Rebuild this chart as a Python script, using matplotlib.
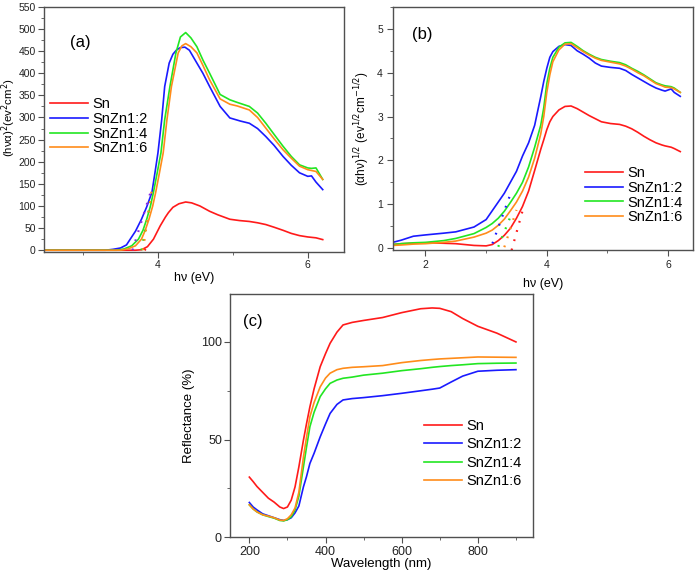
import matplotlib
matplotlib.use("Agg")
import matplotlib.pyplot as plt
from matplotlib.ticker import MultipleLocator

plt.rcParams['font.family'] = ['Liberation Sans', 'DejaVu Sans']

labels = ["Sn", "SnZn1:2", "SnZn1:4", "SnZn1:6"]
colors = ["#ff1a1a", "#1a1aff", "#22e622", "#ff8c1a"]

# ---------- panel (a): (h nu alpha)^2 vs h nu ----------
a_x_sn = [2.48, 3.7, 3.78, 3.86, 3.94, 4.03, 4.1, 4.14, 4.2, 4.28, 4.37, 4.45, 4.56, 4.69, 4.8, 4.96, 5.09, 5.22,
          5.33, 5.44, 5.55, 5.67, 5.78, 5.89, 6.0, 6.11, 6.2]
a_y_sn = [0, 0, 1, 8, 25, 55, 75, 85, 97, 105, 109, 107, 100, 88, 80, 70, 67, 65, 62, 58, 52, 45, 38, 33, 30, 28, 24]
a_x_12 = [2.48, 3.3, 3.4, 3.5, 3.58, 3.63, 3.7, 3.78, 3.85, 3.92, 3.96, 4.0, 4.05, 4.09, 4.15, 4.2, 4.25, 4.3, 4.36,
          4.42, 4.52, 4.6, 4.69, 4.83, 4.96, 5.1, 5.22, 5.33, 5.44, 5.55, 5.67, 5.78, 5.89, 6.0, 6.05, 6.11, 6.2]
a_y_12 = [0, 0, 2, 5, 12, 25, 43, 70, 98, 131, 175, 220, 295, 370, 423, 443, 453, 458, 459, 452, 423, 400, 370, 325,
          299, 292, 287, 275, 257, 237, 212, 192, 175, 167, 168, 154, 137]
a_x_14 = [2.48, 3.45, 3.55, 3.65, 3.74, 3.8, 3.85, 3.9, 3.94, 3.99, 4.04, 4.09, 4.16, 4.24, 4.3, 4.37, 4.44, 4.52,
          4.6, 4.69, 4.83, 4.96, 5.06, 5.22, 5.33, 5.44, 5.55, 5.67, 5.78, 5.89, 6.0, 6.05, 6.11, 6.2]
a_y_14 = [0, 0, 3, 10, 25, 45, 70, 100, 131, 175, 220, 295, 370, 446, 482, 492, 480, 460, 430, 400, 352, 340, 334,
          325, 310, 287, 262, 235, 212, 193, 186, 185, 186, 160]
a_x_16 = [2.48, 3.5, 3.6, 3.7, 3.78, 3.83, 3.88, 3.93, 3.97, 4.02, 4.07, 4.12, 4.18, 4.27, 4.32, 4.37, 4.44, 4.52,
          4.6, 4.69, 4.83, 4.96, 5.06, 5.22, 5.33, 5.44, 5.55, 5.67, 5.78, 5.89, 6.0, 6.11, 6.2]
a_y_16 = [0, 0, 3, 10, 25, 45, 70, 100, 131, 175, 220, 295, 370, 446, 462, 467, 460, 446, 418, 385, 342, 330, 326,
          317, 300, 276, 252, 227, 208, 190, 182, 178, 160]
# tangent (extrapolation) dotted lines
a_fit_x = [[3.82, 3.84], [3.66, 3.9], [3.78, 3.9], [3.8, 3.92]]
a_fit_y = [[0, 3], [0, 130], [0, 110], [0, 140]]

# ---------- panel (b): (alpha h nu)^1/2 vs h nu ----------
b_x = [1.46, 1.6, 1.8, 2.0, 2.3, 2.5, 2.8, 3.0, 3.1, 3.2, 3.3, 3.4, 3.5, 3.6, 3.7, 3.8, 3.9, 3.95, 4.0, 4.05, 4.1,
       4.2, 4.3, 4.4, 4.5, 4.6, 4.7, 4.8, 4.9, 5.05, 5.2, 5.3, 5.4, 5.5, 5.6, 5.7, 5.8, 5.9, 5.95, 6.05, 6.1, 6.2]
b_sn = [0.08, 0.1, 0.11, 0.12, 0.11, 0.1, 0.06, 0.05, 0.08, 0.17, 0.29, 0.45, 0.68, 0.95, 1.3, 1.77, 2.25, 2.47, 2.7,
        2.88, 3.0, 3.15, 3.23, 3.24, 3.18, 3.1, 3.02, 2.95, 2.88, 2.84, 2.82, 2.78, 2.72, 2.64, 2.55, 2.47, 2.4, 2.35,
        2.33, 2.3, 2.27, 2.2]
b_12 = [0.13, 0.18, 0.27, 0.3, 0.34, 0.37, 0.48, 0.65, 0.85, 1.05, 1.25, 1.5, 1.75, 2.1, 2.4, 2.8, 3.45, 3.8, 4.1,
        4.35, 4.48, 4.6, 4.64, 4.62, 4.5, 4.42, 4.33, 4.22, 4.15, 4.12, 4.1, 4.05, 3.96, 3.88, 3.8, 3.72, 3.65, 3.6,
        3.58, 3.63, 3.55, 3.46]
b_14 = [0.08, 0.1, 0.12, 0.13, 0.17, 0.22, 0.33, 0.47, 0.56, 0.68, 0.84, 1.04, 1.25, 1.5, 1.85, 2.3, 2.8, 3.2, 3.75,
        4.1, 4.35, 4.58, 4.68, 4.69, 4.6, 4.5, 4.42, 4.35, 4.3, 4.26, 4.23, 4.18, 4.1, 4.03, 3.95, 3.86, 3.77, 3.72,
        3.7, 3.68, 3.65, 3.55]
b_16 = [0.06, 0.07, 0.09, 0.1, 0.13, 0.16, 0.25, 0.34, 0.41, 0.52, 0.66, 0.85, 1.05, 1.3, 1.62, 2.05, 2.6, 3.0, 3.55,
        3.95, 4.25, 4.52, 4.65, 4.66, 4.57, 4.48, 4.4, 4.33, 4.28, 4.24, 4.2, 4.15, 4.08, 4.0, 3.93, 3.84, 3.75, 3.7,
        3.67, 3.66, 3.63, 3.55]
b_fit_x = [[3.42, 3.62], [3.05, 3.39], [3.2, 3.39], [3.3, 3.5]]
b_fit_y = [[-0.05, 0.95], [-0.1, 1.19], [0.03, 0.68], [0.02, 0.87]]

# ---------- panel (c): reflectance vs wavelength ----------
c_x = [200, 210, 220, 235, 250, 265, 280, 290, 300, 310, 320, 330, 342, 350, 359, 370, 386, 400, 412, 430, 446, 470,
       500, 550, 600, 650, 680, 700, 730, 760, 800, 850, 900]
c_sn = [30.8, 28.5, 26, 23, 20, 18, 15.5, 14.7, 15.5, 19, 25.8, 36, 49.7, 58, 66.8, 76, 87.3, 94, 99.3, 105, 108.7,
        110, 111, 112.5, 115, 117, 117.4, 117.2, 115.5, 112, 108, 104.5, 100]
c_12 = [17.8, 15.5, 14, 12, 11, 10, 9, 8.6, 9.0, 10, 12.5, 16, 25.8, 31, 37.8, 43, 51.4, 58, 63.4, 68, 70.3, 71, 71.5,
        72.5, 73.7, 75, 75.8, 76.4, 79.5, 82.5, 85, 85.5, 85.8]
c_14 = [16.6, 14.5, 13, 11.5, 10.6, 9.8, 8.6, 8.4, 9, 10.5, 14, 21, 36, 46, 56.6, 64, 72, 76, 78.8, 80.5, 81.4, 82, 83,
        84, 85.3, 86.3, 87, 87.4, 87.9, 88.3, 88.9, 89.1, 89.2]
c_16 = [16.6, 14.5, 13, 11.5, 10.8, 10, 8.8, 8.6, 9.5, 11.5, 15, 23, 41, 51, 61.7, 69, 77, 81.5, 84, 85.8, 86.5, 87,
        87.3, 87.9, 89.4, 90.5, 91, 91.3, 91.6, 91.9, 92.3, 92.2, 92.1]

fig = plt.figure(figsize=(7.0, 5.74), dpi=100)
spine_col = "#505050"


def style(ax, tick_fs, pad=3):
    for s in ax.spines.values():
        s.set_color(spine_col)
        s.set_linewidth(1.0)
    ax.tick_params(which='both', direction='out', colors=spine_col, labelcolor='#222222',
                   labelsize=tick_fs, top=False, right=False, pad=pad)
    ax.tick_params(which='major', length=4)
    ax.tick_params(which='minor', length=2.5)


# (a)
axa = fig.add_axes([0.063, 0.561, 0.428, 0.427])
for xs, ys, c, l in zip([a_x_sn, a_x_12, a_x_14, a_x_16], [a_y_sn, a_y_12, a_y_14, a_y_16], colors, labels):
    axa.plot(xs, ys, color=c, lw=1.2, label=l)
fit_cols_a = ["#ff1a1a", "#8a2be2", "#22e622", "#ff8c1a"]
for xs, ys, c in zip(a_fit_x, a_fit_y, fit_cols_a):
    axa.plot(xs, ys, color=c, lw=1.6, ls=(0, (0.8, 3.5)))
axa.set_xlim(2.48, 6.48)
axa.set_ylim(-4, 550)
axa.xaxis.set_major_locator(MultipleLocator(2))
axa.xaxis.set_minor_locator(MultipleLocator(1))
axa.yaxis.set_major_locator(MultipleLocator(50))
axa.yaxis.set_minor_locator(MultipleLocator(25))
style(axa, 7.5, pad=2)
axa.set_xlabel("h\u03bd (eV)", fontsize=9, labelpad=1)
axa.set_ylabel("(h\u03bd\u03b1)$^2$(ev$^2$cm$^2$)", fontsize=8.2)
axa.yaxis.set_label_coords(-0.088, 0.55)
axa.text(0.087, 0.853, "(a)", transform=axa.transAxes, fontsize=12, va='center')
axa.legend(loc='upper left', bbox_to_anchor=(0.0, 0.655), frameon=False, fontsize=10.5,
           handlelength=2.6, handletextpad=0.3, labelspacing=0.05, borderaxespad=0)

# (b)
axb = fig.add_axes([0.561, 0.564, 0.429, 0.424])
for ys, c, l in zip([b_sn, b_12, b_14, b_16], colors, labels):
    axb.plot(b_x, ys, color=c, lw=1.2, label=l)
for xs, ys, c in zip(b_fit_x, b_fit_y, colors):
    axb.plot(xs, ys, color=c, lw=1.6, ls=(0, (0.8, 3.5)))
axb.set_xlim(1.46, 6.41)
axb.set_ylim(-0.05, 5.5)
axb.xaxis.set_major_locator(MultipleLocator(2))
axb.xaxis.set_minor_locator(MultipleLocator(1))
axb.yaxis.set_major_locator(MultipleLocator(1))
axb.yaxis.set_minor_locator(MultipleLocator(0.5))
style(axb, 7.5)
axb.set_xlabel("h\u03bd (eV)", fontsize=9, labelpad=6)
axb.set_ylabel("(\u03b1h\u03bd)$^{1/2}$ (ev$^{1/2}$cm$^{-1/2}$)", fontsize=8.5, labelpad=4)
axb.text(0.063, 0.885, "(b)", transform=axb.transAxes, fontsize=12, va='center')
axb.legend(loc='upper left', bbox_to_anchor=(0.62, 0.37), frameon=False, fontsize=10.5,
           handlelength=2.6, handletextpad=0.3, labelspacing=0.05, borderaxespad=0)

# (c)
axc = fig.add_axes([0.329, 0.064, 0.432, 0.424])
for ys, c, l in zip([c_sn, c_12, c_14, c_16], colors, labels):
    axc.plot(c_x, ys, color=c, lw=1.2, label=l)
axc.set_xlim(150, 944)
axc.set_ylim(0, 124.6)
axc.xaxis.set_major_locator(MultipleLocator(200))
axc.xaxis.set_minor_locator(MultipleLocator(100))
axc.yaxis.set_major_locator(MultipleLocator(50))
axc.yaxis.set_minor_locator(MultipleLocator(25))
style(axc, 9, pad=2)
axc.set_xlabel("Wavelength (nm)", fontsize=9.5, labelpad=0)
axc.set_ylabel("Reflectance (%)", fontsize=9.5, labelpad=4)
axc.text(0.043, 0.885, "(c)", transform=axc.transAxes, fontsize=12, va='center')
axc.legend(loc='upper left', bbox_to_anchor=(0.62, 0.51), frameon=False, fontsize=10.5,
           handlelength=2.6, handletextpad=0.3, labelspacing=0.3, borderaxespad=0)

fig.savefig("out.png", dpi=100)
